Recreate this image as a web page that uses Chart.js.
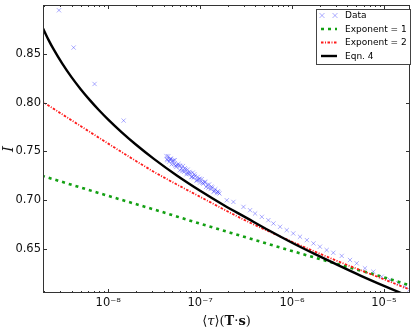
<!DOCTYPE html>
<html><head><meta charset="utf-8">
<script src="https://cdn.jsdelivr.net/npm/chart.js@4.4.1/dist/chart.umd.min.js"></script>
<style>html,body{margin:0;padding:0;background:#fff}#wrap{width:415px;height:330px}</style>
</head><body><div id="wrap"><canvas id="c" width="415" height="330"></canvas></div>
<script>
// ---- axis ticks ----
const xTickValues = [1e-8, 1e-7, 1e-6, 1e-5];
const xTickLabels = ['10⁻⁸', '10⁻⁷', '10⁻⁶', '10⁻⁵'];
const yTickValues = [0.65, 0.70, 0.75, 0.80, 0.85];
const yTickLabels = ['0.65', '0.70', '0.75', '0.80', '0.85'];
const seriesNames = ['Data', 'Exponent = 1', 'Exponent = 2', 'Eqn. 4'];
const xTitleParts = [['⟨', ''], ['τ', 'italic '], ['⟩', ''], ['(', ''], ['T', 'bold '], ['·', ''], ['s', 'bold '], [')', '']];
const yTitle = 'I';

// ---- Data (x markers) ----
const dataTau = [
  2.91e-9, 4.2e-9, 7.1e-9, 1.47e-8,
  4.3e-8, 4.4e-8, 4.5e-8, 4.6e-8, 4.7e-8, 4.8e-8, 4.9e-8, 5.0e-8, 5.2e-8, 5.3e-8,
  5.5e-8, 5.6e-8, 5.8e-8, 6.0e-8, 6.1e-8, 6.3e-8, 6.5e-8, 6.7e-8, 6.9e-8, 7.1e-8,
  7.3e-8, 7.5e-8, 7.8e-8, 8.0e-8, 8.3e-8, 8.5e-8, 8.8e-8, 9.1e-8, 9.4e-8, 9.7e-8,
  1.00e-7, 1.04e-7, 1.08e-7, 1.12e-7, 1.16e-7, 1.20e-7, 1.25e-7, 1.30e-7, 1.35e-7, 1.40e-7,
  1.46e-7, 1.52e-7, 1.58e-7,
  4.35e-8, 4.75e-8, 5.1e-8, 5.4e-8, 5.9e-8, 6.4e-8, 6.8e-8, 7.2e-8, 7.65e-8, 8.15e-8,
  8.65e-8, 9.25e-8, 9.85e-8, 1.06e-7, 1.14e-7, 1.225e-7, 1.325e-7, 1.43e-7, 1.55e-7, 1.62e-7,
  1.95e-7, 2.30e-7, 2.96e-7, 3.49e-7, 3.96e-7, 4.69e-7, 5.52e-7, 6.27e-7, 7.41e-7, 8.75e-7,
  1.03e-6, 1.22e-6, 1.45e-6, 1.71e-6, 2.01e-6, 2.38e-6, 2.81e-6, 3.47e-6, 4.27e-6, 5.05e-6,
  6.21e-6, 7.66e-6, 9.44e-6, 1.16e-5, 1.43e-5, 1.69e-5, 1.90e-5
];
const dataI = [
  0.8946, 0.8564, 0.8191, 0.7816,
  0.7453, 0.7412, 0.7451, 0.7395, 0.7414, 0.7428, 0.7368, 0.7402, 0.7371, 0.7411,
  0.7341, 0.7361, 0.7371, 0.7307, 0.7352, 0.7324, 0.7350, 0.7292, 0.7314, 0.7266,
  0.7313, 0.7271, 0.7275, 0.7238, 0.7283, 0.7231, 0.7247, 0.7198, 0.7239, 0.7210,
  0.7182, 0.7216, 0.7171, 0.7186, 0.7136, 0.7157, 0.7161, 0.7115, 0.7129, 0.7089,
  0.7113, 0.7077, 0.7081,
  0.7420, 0.7421, 0.7407, 0.7356, 0.7356, 0.7299, 0.7328, 0.7282, 0.7290, 0.7238,
  0.7266, 0.7208, 0.7221, 0.7181, 0.7186, 0.7126, 0.7139, 0.7093, 0.7091, 0.7069,
  0.7000, 0.6983, 0.6932, 0.6898, 0.6864, 0.6830, 0.6796, 0.6762, 0.6728, 0.6694,
  0.6660, 0.6626, 0.6592, 0.6558, 0.6524, 0.6490, 0.6462, 0.6430, 0.6388, 0.6354,
  0.6303, 0.6268, 0.6217, 0.6184, 0.6150, 0.6115, 0.6085
];

// ---- Exponent = 1 ----
const exp1Tau = [1.9e-9, 1e-8, 3.16e-8, 1e-7, 3.16e-7, 1e-6, 3.16e-6, 1e-5, 2e-5];
const exp1I   = [0.7251, 0.7045, 0.6905, 0.6760, 0.6620, 0.6480, 0.6345, 0.6210, 0.6122];

// ---- Exponent = 2 ----
const exp2Tau = [1.9e-9, 5e-9, 1e-8, 3.16e-8, 1e-7, 3.16e-7, 1e-6, 3.16e-6, 1e-5, 2e-5];
const exp2I   = [0.8013, 0.7760, 0.7580, 0.7290, 0.7035, 0.6790, 0.6575, 0.6375, 0.6190, 0.6077];

// ---- Eqn. 4 ----
const eqn4Tau = [1.905e-9, 2.239e-9, 2.512e-9, 3.162e-9, 3.981e-9, 5.012e-9, 6.310e-9, 7.943e-9, 1e-8,
                 1.413e-8, 1.995e-8, 3.162e-8, 5.623e-8, 1e-7, 1.778e-7, 3.162e-7, 5.623e-7, 1e-6,
                 1.778e-6, 3.162e-6, 5.623e-6, 1e-5, 1.778e-5, 2.089e-5];
const eqn4I   = [0.8781, 0.8643, 0.8555, 0.8399, 0.8261, 0.8138, 0.8026, 0.7922, 0.7826,
                 0.7693, 0.7571, 0.7421, 0.7251, 0.7097, 0.6954, 0.6822, 0.6690, 0.6565,
                 0.6448, 0.6335, 0.6226, 0.6123, 0.6024, 0.5997];

const pts = (xs, ys) => xs.map((v, i) => ({x: v, y: ys[i]}));

const frameTicks = {
  id: 'frameTicks',
  afterDatasetsDraw(chart) {
    const {ctx, chartArea: a, scales: {x, y}} = chart;
    ctx.save();
    ctx.strokeStyle = '#333';
    ctx.lineWidth = 1;
    ctx.beginPath();
    const vt = (v, len) => {
      const px = Math.round(x.getPixelForValue(v)) + 0.5;
      ctx.moveTo(px, a.bottom); ctx.lineTo(px, a.bottom - len);
      ctx.moveTo(px, a.top); ctx.lineTo(px, a.top + len);
    };
    xTickValues.forEach(v => vt(v, 4));
    for (let e = -10; e <= -4; e++) {
      for (let k = 2; k <= 9; k++) {
        const v = k * Math.pow(10, e);
        if (v > x.min && v < x.max) vt(v, 2);
      }
    }
    yTickValues.forEach(v => {
      const py = Math.round(y.getPixelForValue(v)) + 0.5;
      ctx.moveTo(a.left, py); ctx.lineTo(a.left + 4, py);
      ctx.moveTo(a.right, py); ctx.lineTo(a.right - 4, py);
    });
    ctx.stroke();
    ctx.strokeRect(Math.round(a.left) + 0.5, Math.round(a.top) + 0.5, Math.round(a.width) - 1, Math.round(a.height) - 1);
    ctx.restore();
  },
  afterDraw(chart) {
    const ctx = chart.ctx;
    const a = chart.chartArea;
    const ds = chart.data.datasets;
    // x-axis title (mixed styles)
    ctx.save();
    ctx.fillStyle = '#111';
    ctx.textBaseline = 'alphabetic';
    const fam = '13px "DejaVu Serif"';
    let total = 0;
    const widths = xTitleParts.map(([t, st]) => { ctx.font = st + fam; const w = ctx.measureText(t).width; total += w; return w; });
    let cx = (a.left + a.right) / 2 - total / 2;
    xTitleParts.forEach(([t, st], i) => { ctx.font = st + fam; ctx.fillText(t, cx, 325); cx += widths[i]; });
    ctx.restore();
    // legend
    const bx = 316, by = 9, bw = 94, bh = 55;
    ctx.save();
    ctx.fillStyle = '#fff';
    ctx.fillRect(bx, by, bw, bh);
    ctx.strokeStyle = '#444';
    ctx.lineWidth = 1;
    ctx.strokeRect(bx + 0.5, by + 0.5, bw, bh);
    const rows = [15.5, 29, 42.5, 56];
    ctx.font = '9px "DejaVu Sans"';
    ctx.textBaseline = 'middle';
    ds.forEach((d, i) => {
      const yy = rows[i];
      if (i === 0) {
        ctx.strokeStyle = d.borderColor;
        ctx.lineWidth = 1;
        ctx.setLineDash([]);
        ctx.beginPath();
        [322, 335].forEach(xx => { ctx.moveTo(xx - 2.5, yy - 2.5); ctx.lineTo(xx + 2.5, yy + 2.5); ctx.moveTo(xx - 2.5, yy + 2.5); ctx.lineTo(xx + 2.5, yy - 2.5); });
        ctx.stroke();
      } else {
        ctx.strokeStyle = d.borderColor;
        ctx.lineWidth = d.borderWidth;
        ctx.setLineDash(d.borderDash || []);
        ctx.beginPath();
        ctx.moveTo(321, yy); ctx.lineTo(337, yy);
        ctx.stroke();
      }
      ctx.setLineDash([]);
      ctx.fillStyle = '#000';
      ctx.fillText(d.label, 345, yy + 0.5);
    });
    ctx.restore();
  }
};

new Chart(document.getElementById('c'), {
  type: 'scatter',
  data: {
    datasets: [
      {label: seriesNames[0], data: pts(dataTau, dataI), pointStyle: 'crossRot', pointRadius: 3,
       borderColor: 'rgba(40,40,255,0.38)', backgroundColor: 'rgba(40,40,255,0.38)', pointBorderWidth: 1, order: 4, clip: 0},
      {label: seriesNames[1], data: pts(exp1Tau, exp1I), showLine: true, pointRadius: 0, borderColor: '#13a013',
       borderWidth: 2.6, borderDash: [3, 4], cubicInterpolationMode: 'monotone', order: 3, clip: 0},
      {label: seriesNames[2], data: pts(exp2Tau, exp2I), showLine: true, pointRadius: 0, borderColor: '#ff1a1a',
       borderWidth: 1.8, borderDash: [2.5, 1.5, 1, 1.5], cubicInterpolationMode: 'monotone', order: 2, clip: 0},
      {label: seriesNames[3], data: pts(eqn4Tau, eqn4I), showLine: true, pointRadius: 0, borderColor: '#000',
       borderWidth: 2.4, cubicInterpolationMode: 'monotone', order: 1, clip: 0}
    ]
  },
  options: {
    responsive: false, animation: false, devicePixelRatio: 1,
    layout: {padding: {top: 4, right: 4, left: 0, bottom: 0}},
    plugins: {legend: {display: false}, tooltip: {enabled: false}},
    scales: {
      x: {
        type: 'logarithmic', min: 1.95e-9, max: 1.92e-5,
        grid: {display: false, drawTicks: false}, border: {display: false},
        afterBuildTicks: s => { s.ticks = xTickValues.map(v => ({value: v})); },
        afterFit: s => { s.height = 37; s.paddingLeft = 0; s.paddingRight = 0; },
        ticks: {callback: (v, i) => xTickLabels[i], padding: 3, color: '#111', maxRotation: 0,
                font: {family: '"DejaVu Sans"', size: 11.5}},
        title: {display: false}
      },
      y: {
        min: 0.605, max: 0.9,
        grid: {display: false, drawTicks: false}, border: {display: false},
        afterBuildTicks: s => { s.ticks = yTickValues.map(v => ({value: v})); },
        afterFit: s => { s.width = 43; s.paddingTop = 0; s.paddingBottom = 0; },
        ticks: {callback: (v, i) => yTickLabels[i], padding: 2, color: '#111',
                font: {family: '"DejaVu Sans"', size: 11.5}},
        title: {display: true, text: yTitle, color: '#111', padding: {top: 0, bottom: 0},
                font: {family: '"DejaVu Serif"', size: 15, style: 'italic'}}
      }
    }
  },
  plugins: [frameTicks]
});
</script></body></html>
